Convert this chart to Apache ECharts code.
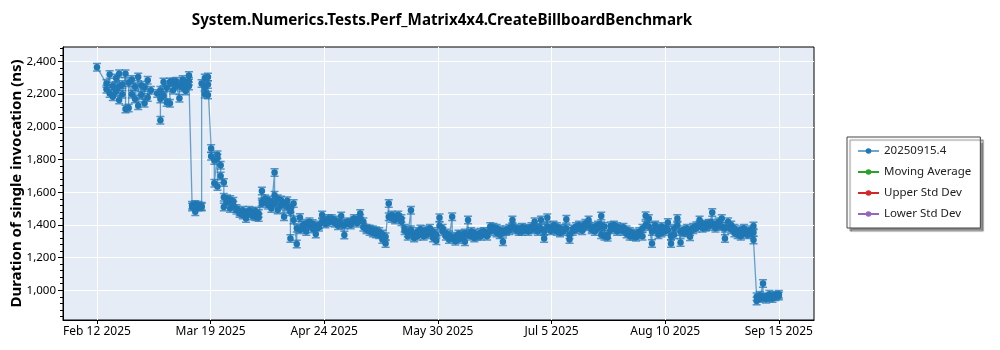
<!DOCTYPE html>
<html><head><meta charset="utf-8">
<script src="https://cdn.jsdelivr.net/npm/echarts@6/dist/echarts.min.js"></script>
<style>html,body{margin:0;padding:0;background:#fff}#c{width:1000px;height:350px}</style>
</head><body><div id="c"></div>
<script>
const chartTitle = 'System.Numerics.Tests.Perf_Matrix4x4.CreateBillboardBenchmark';
const yAxisTitle = 'Duration of single invocation (ns)';
const mainSeriesName = '20250915.4';
const extraSeriesNames = ['Moving Average', 'Upper Std Dev', 'Lower Std Dev'];
const xTickLabels = ['Feb 12 2025', 'Mar 19 2025', 'Apr 24 2025', 'May 30 2025', 'Jul 5 2025', 'Aug 10 2025', 'Sep 15 2025'];
const yTickValues = [1000, 1200, 1400, 1600, 1800, 2000, 2200, 2400];
const yMinorTickValues = [840, 880, 920, 960, 1000, 1040, 1080, 1120, 1160, 1200, 1240, 1280, 1320, 1360, 1400, 1440, 1480, 1520, 1560, 1600, 1640, 1680, 1720, 1760, 1800, 1840, 1880, 1920, 1960, 2000, 2040, 2080, 2120, 2160, 2200, 2240, 2280, 2320, 2360, 2400, 2440, 2480];

const runDates = [
'2025-02-12','2025-02-15','2025-02-16','2025-02-17','2025-02-18','2025-02-19','2025-02-20','2025-02-21','2025-02-22','2025-02-23',
'2025-02-24','2025-02-25','2025-02-26','2025-02-27','2025-02-28','2025-03-01','2025-03-03','2025-03-04','2025-03-05','2025-03-06',
'2025-03-07','2025-03-08','2025-03-09','2025-03-10','2025-03-11','2025-03-12','2025-03-13','2025-03-14','2025-03-15','2025-03-16',
'2025-03-17','2025-03-18','2025-03-19','2025-03-20','2025-03-21','2025-03-22','2025-03-23','2025-03-24','2025-03-25','2025-03-26',
'2025-03-27','2025-03-28','2025-03-29','2025-03-30','2025-03-31','2025-04-01','2025-04-02','2025-04-03','2025-04-04','2025-04-05',
'2025-04-06','2025-04-07','2025-04-08','2025-04-09','2025-04-10','2025-04-11','2025-04-12','2025-04-13','2025-04-14','2025-04-15',
'2025-04-16','2025-04-17','2025-04-18','2025-04-19','2025-04-20','2025-04-21','2025-04-22','2025-04-23','2025-04-24','2025-04-25',
'2025-04-26','2025-04-27','2025-04-28','2025-04-29','2025-04-30','2025-05-01','2025-05-02','2025-05-03','2025-05-04','2025-05-05',
'2025-05-06','2025-05-07','2025-05-08','2025-05-09','2025-05-10','2025-05-11','2025-05-12','2025-05-13','2025-05-14','2025-05-15',
'2025-05-16','2025-05-17','2025-05-18','2025-05-19','2025-05-20','2025-05-21','2025-05-22','2025-05-23','2025-05-24','2025-05-25',
'2025-05-26','2025-05-27','2025-05-28','2025-05-29','2025-05-30','2025-05-31','2025-06-01','2025-06-02','2025-06-03','2025-06-04',
'2025-06-05','2025-06-06','2025-06-07','2025-06-08','2025-06-09','2025-06-10','2025-06-11','2025-06-12','2025-06-13','2025-06-14',
'2025-06-15','2025-06-16','2025-06-17','2025-06-18','2025-06-19','2025-06-20','2025-06-21','2025-06-22','2025-06-23','2025-06-24',
'2025-06-25','2025-06-26','2025-06-27','2025-06-28','2025-06-29','2025-06-30','2025-07-01','2025-07-02','2025-07-03','2025-07-04',
'2025-07-05','2025-07-06','2025-07-07','2025-07-08','2025-07-09','2025-07-10','2025-07-11','2025-07-12','2025-07-13','2025-07-14',
'2025-07-15','2025-07-16','2025-07-17','2025-07-18','2025-07-19','2025-07-20','2025-07-21','2025-07-22','2025-07-23','2025-07-24',
'2025-07-25','2025-07-26','2025-07-27','2025-07-28','2025-07-29','2025-07-30','2025-07-31','2025-08-01','2025-08-02','2025-08-03',
'2025-08-04','2025-08-05','2025-08-06','2025-08-07','2025-08-08','2025-08-09','2025-08-10','2025-08-11','2025-08-12','2025-08-13',
'2025-08-14','2025-08-15','2025-08-16','2025-08-17','2025-08-18','2025-08-19','2025-08-20','2025-08-21','2025-08-22','2025-08-23',
'2025-08-24','2025-08-25','2025-08-26','2025-08-27','2025-08-28','2025-08-29','2025-08-30','2025-08-31','2025-09-01','2025-09-02',
'2025-09-03','2025-09-04','2025-09-05','2025-09-06','2025-09-07','2025-09-08','2025-09-09','2025-09-10','2025-09-11','2025-09-12',
'2025-09-13','2025-09-14','2025-09-15'
];

// Durations (ns) of the runs recorded on each date (same order as runDates)
const runDurations = [
[2365],[2265,2230],[2320,2205],[2250,2185],[2300,2215],[2325,2165,2245],[2260,2200],[2325,2110],[2115,2270],[2200,2290],
[2245,2170],[2305,2130],[2255,2195],[2145,2240],[2285,2180],[2225],[2205],[2225,2040,2170],[2275,2190],[2240,2150],
[2145,2275],[2275,2225],[2280,2250],[2175,2260],[2240,2290],[2270,2220],[2315,2250,2280],[1520,1510],[1525,1480,1515],[1510,1520],
[1515,1510,2265],[2240,2200,2300],[2305,2195,2260],[1868,1820],[1795,1655],[1830,1635,1810],[1765,1700],[1660,1510,1570],[1560,1540],[1555,1500],
[1545,1520],[1500,1490],[1480,1470],[1490,1460],[1440,1475],[1490,1470],[1480,1455],[1450,1485],[1470,1445],[1607,1541,1530],
[1545,1560],[1552,1520],[1540,1500],[1721,1582,1530],[1491,1560],[1552,1520],[1450,1530],[1548,1510],[1480,1317,1500],[1531,1430],
[1283,1380],[1446,1370],[1400,1380],[1410,1360],[1395,1420],[1409,1375],[1390,1344],[1400,1385],[1460,1420],[1430,1405],
[1440,1415],[1425,1440],[1410,1430],[1420,1395],[1454,1405],[1338,1400],[1410,1420],[1415,1400],[1440,1425],[1430,1410],
[1470,1440],[1420,1385],[1380,1370],[1375,1360],[1370,1350],[1365,1345],[1360,1340],[1310,1345],[1287,1327],[1531,1450],
[1460,1440],[1450,1430],[1445,1460],[1440,1420],[1365,1380],[1350,1330],[1490,1370],[1340,1320],[1330,1360],[1345,1375],
[1360,1330],[1370,1340],[1380,1350],[1360,1320],[1303,1340],[1444,1395],[1380,1360],[1350,1330],[1340,1310],[1450,1320],
[1300,1330],[1310,1345],[1340,1320],[1350,1297],[1430,1340],[1360,1330],[1350,1320],[1340,1330],[1330,1355],[1345,1360],
[1350,1330],[1390,1360],[1385,1370],[1380,1350],[1370,1340],[1297,1355],[1370,1360],[1380,1365],[1430,1390],[1380,1370],
[1370,1360],[1360,1385],[1380,1370],[1375,1360],[1390,1370],[1420,1380],[1375,1360],[1430,1380],[1317,1360],[1444,1390],
[1380,1365],[1400,1370],[1390,1360],[1380,1350],[1370,1360],[1434,1380],[1311,1340],[1360,1375],[1390,1370],[1400,1380],
[1385,1365],[1410,1390],[1430,1395],[1380,1370],[1390,1360],[1400,1380],[1454,1395,1340],[1390,1330],[1340,1325],[1395,1370],
[1400,1380],[1390,1360],[1380,1370],[1385,1360],[1370,1345],[1360,1330],[1350,1330],[1340,1325],[1360,1345],[1380,1330],
[1456,1400],[1440,1390],[1287,1360],[1400,1370],[1380,1340],[1390,1350],[1380,1360],[1415,1370],[1287,1330],[1380,1340],
[1440,1400],[1293,1360],[1370,1350],[1380,1355],[1327,1360],[1385,1370],[1395,1380],[1430,1400],[1400,1380],[1405,1385],
[1410,1390],[1476,1410],[1400,1380],[1420,1395],[1440,1390],[1317,1380],[1420,1390],[1400,1370],[1380,1350],[1360,1340],
[1370,1330],[1380,1350],[1360,1340],[1370,1345],[1393,1354,1307],[960,935],[970,950],[1042,955],[960,945],[975,955],
[965,950],[970,960],[975,965]
];

// Axis ranges (x measured in hours since the first run date)
const xTickStepHours = 860;
const xMinHours = -257;
const xMaxHours = 5426;
const yMin = 818, yMax = 2489;

const HOUR = 3600000;
const origin = Date.parse(runDates[0]);
const points = [];
runDates.forEach((d, i) => {
  const h = (Date.parse(d) - origin) / HOUR;
  runDurations[i].forEach(v => points.push([h, v]));
});
const xTickValues = xTickLabels.map((_, i) => i * xTickStepHours);
function xLabel(v) {
  const i = Math.round(v / xTickStepHours);
  return xTickLabels[i] || '';
}

const FONT = 'Noto Sans';
const colors = ['#1f77b4', '#2ca02c', '#d62728', '#9467bd'];

const chart = echarts.init(document.getElementById('c'), null, {renderer: 'canvas'});
const series = [
  {
    name: mainSeriesName, type: 'line', data: points, z: 4,
    symbol: 'circle', symbolSize: 6.5, showAllSymbol: true,
    lineStyle: {color: colors[0], width: 1.3, opacity: 0.65},
    itemStyle: {color: colors[0]},
    emphasis: {disabled: true}
  },
  {
    name: 'caps', type: 'scatter', data: points, z: 3, silent: true,
    symbol: 'path://M0,0H8V1.5H0Z M3.3,1.5H4.7V7.5H3.3Z M0,7.5H8V9H0Z',
    symbolSize: [8, 9],
    itemStyle: {color: colors[0], opacity: 0.75}
  }
];
extraSeriesNames.forEach((n, i) => series.push({
  name: n, type: 'line', data: [], symbol: 'circle', symbolSize: 6,
  lineStyle: {color: colors[i + 1], width: 1.3}, itemStyle: {color: colors[i + 1]}
}));

chart.setOption({
  animation: false,
  color: colors,
  title: {
    text: chartTitle, left: 437, top: 8, textAlign: 'center',
    textStyle: {fontFamily: FONT, fontWeight: 'bold', fontSize: 15.2, color: '#000'}
  },
  legend: {
    data: [mainSeriesName].concat(extraSeriesNames),
    orient: 'vertical', left: 847, top: 137,
    padding: [7, 9, 7, 10], itemGap: 7, itemWidth: 21, itemHeight: 7,
    backgroundColor: '#fff', borderColor: '#444', borderWidth: 1,
    shadowColor: 'rgba(0,0,0,0.45)', shadowOffsetX: 3, shadowOffsetY: 3, shadowBlur: 1,
    textStyle: {fontFamily: FONT, fontSize: 11.5, color: '#222', lineHeight: 14},
    selectedMode: false
  },
  grid: {
    left: 63, right: 186, top: 47, bottom: 30, show: true,
    containLabel: false, outerBoundsMode: 'none',
    backgroundColor: '#E5ECF6', borderColor: '#000', borderWidth: 1
  },
  xAxis: {
    type: 'value', min: xMinHours, max: xMaxHours,
    axisLine: {onZero: false, lineStyle: {color: '#000'}},
    axisTick: {length: 4, lineStyle: {color: '#000'}, customValues: xTickValues},
    splitLine: {lineStyle: {color: '#fff', width: 1}},
    axisLabel: {
      customValues: xTickValues, formatter: xLabel, margin: 6,
      fontFamily: FONT, fontSize: 12, color: '#000'
    }
  },
  yAxis: [{
    type: 'value', min: yMin, max: yMax,
    name: yAxisTitle, nameLocation: 'middle', nameGap: 39, nameMoveOverlap: false,
    nameTextStyle: {fontFamily: FONT, fontWeight: 'bold', fontSize: 15, color: '#000'},
    axisLine: {show: true, onZero: false, lineStyle: {color: '#000'}},
    axisTick: {show: true, length: 5, lineStyle: {color: '#000'}, customValues: yTickValues},
    splitLine: {lineStyle: {color: '#fff', width: 1}},
    axisLabel: {
      customValues: yTickValues, formatter: v => v.toLocaleString('en-US'),
      margin: 7, fontFamily: FONT, fontSize: 11.5, color: '#000'
    }
  }, {
    type: 'value', min: yMin, max: yMax, position: 'left', offset: 0,
    axisLine: {show: false, onZero: false},
    axisTick: {show: true, length: 3, lineStyle: {color: '#000'}, customValues: yMinorTickValues},
    axisLabel: {show: false},
    splitLine: {show: false}
  }],
  series: series
});
</script>
</body></html>
